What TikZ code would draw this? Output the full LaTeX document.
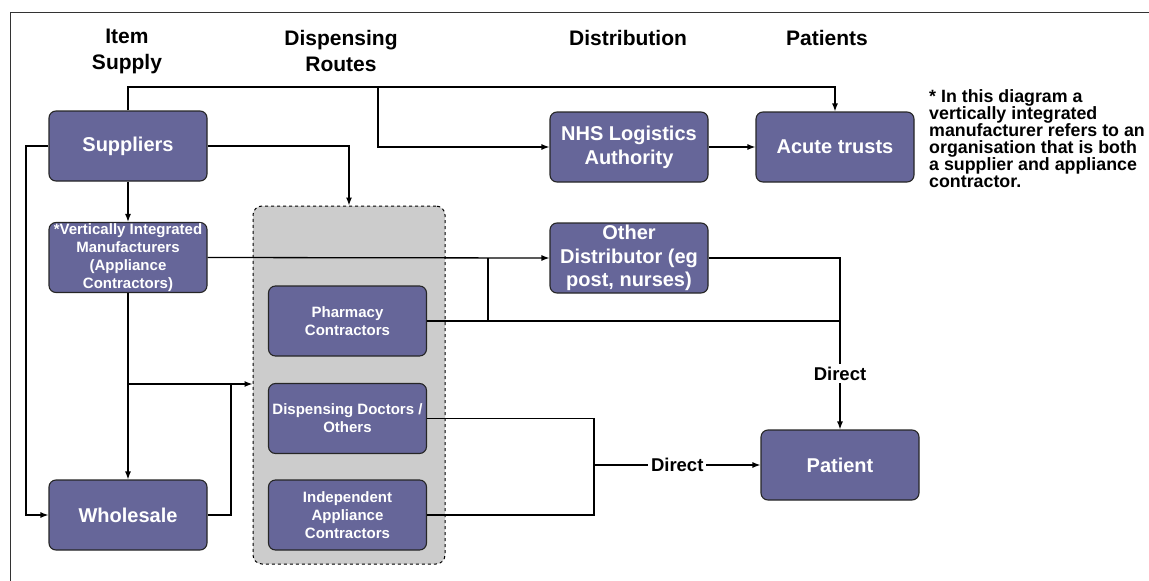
\documentclass[tikz,border=0pt]{standalone}
\usepackage{fontspec}
\setmainfont{Liberation Sans}
\usetikzlibrary{arrows.meta}
\definecolor{boxblue}{RGB}{102,102,153}
\definecolor{poolgrey}{RGB}{204,204,204}

\begin{document}
\begin{tikzpicture}[x=1pt, y=-1pt,
  box/.style={draw=black!85, fill=boxblue, rounded corners=7pt, line width=1.1pt,
    minimum width=158pt, minimum height=70pt, inner sep=1pt, align=center,
    text=white, font=\fontsize{20}{24}\selectfont\bfseries},
  smallbox/.style={box, font=\fontsize{15}{18}\selectfont\bfseries},
  head/.style={align=center, font=\fontsize{21}{26}\selectfont\bfseries},
  lbl/.style={fill=white, inner sep=3pt, font=\fontsize{18.5}{22}\selectfont\bfseries},
  link/.style={line width=1.3pt},
  arr/.style={link, -{Latex[length=8pt,width=6pt]}}]
\useasboundingbox (0,0) rectangle (1149,581);
\draw[line width=1pt, black!80] (10,581) -- (10,12) -- (1149,12);

% column headings
\node[head] (hsupply) at (127,51) {Item\\Supply};
\node[head] (hroutes) at (341,51) {Dispensing\\Routes};
\node[head] (hdist) at (628,38) {Distribution};
\node[head] (hpat) at (827,38) {Patients};

% dispensing routes pool
\node[draw, dashed, fill=poolgrey, rounded corners=9pt, line width=1pt,
  minimum width=192pt, minimum height=358pt] (pool) at (349,385) {};

\node[box] (sup) at (128,146) {Suppliers};
\node[smallbox] (vim) at (128,257.5) {*Vertically Integrated\\Manufacturers\\(Appliance\\Contractors)};
\node[box] (whole) at (128,515) {Wholesale};
\node[smallbox] (pharm) at (347.5,321) {Pharmacy\\Contractors};
\node[smallbox] (doc) at (347.5,418.5) {Dispensing Doctors /\\Others};
\node[smallbox] (indep) at (347.5,515) {Independent\\Appliance\\Contractors};
\node[box] (nhs) at (629,147) {NHS Logistics\\Authority};
\node[box] (acute) at (835,147) {Acute trusts};
\node[box, font=\fontsize{20}{23.5}\selectfont\bfseries] (other) at (629,258) {Other\\Distributor (eg\\post, nurses)};
\node[box] (patient) at (840,465) {Patient};

\node[anchor=north west, align=left, inner sep=0pt,
  font=\fontsize{17.8}{17}\selectfont\bfseries] (note) at (929,89)
  {* In this diagram a\\vertically integrated\\manufacturer refers to an\\organisation that is both\\a supplier and appliance\\contractor.};

% junctions
\coordinate (jtop) at (378,87);
\coordinate (jleft) at (26,146);
\coordinate (jvim) at (128,384);
\coordinate (jwhole) at (231,384);
\coordinate (jpharm) at (488,320);
\coordinate (jdoc) at (594,465);

\draw[arr] (sup.north) |- (jtop) -| (acute.north);
\draw[arr] (jtop) |- (nhs.west);
\draw[arr] (nhs) -- (acute);
\draw[arr] (sup.east) -| (pool.north);
\draw[arr] (sup.west) -- (jleft) |- (whole.west);
\draw[arr] (sup) -- (vim);
\draw[arr] (vim) -- (whole);
\draw[arr] (vim.east) -- (other.west);
\draw[arr] (jvim) -- (jvim -| pool.west);
\draw[link] (whole.east) -| (jwhole);
\draw[link] (pharm.east) -- (pharm.east -| patient.north);
\draw[link] (jpharm) -- (jpharm |- other.west);
\draw[arr] (other.east) -| (patient.north) node[lbl, pos=0.837] {Direct};
\draw[link] (doc.east) -| (jdoc);
\draw[link] (indep.east) -| (jdoc);
\draw[arr] (jdoc) -- node[lbl] {Direct} (patient.west);
\end{tikzpicture}
\end{document}
